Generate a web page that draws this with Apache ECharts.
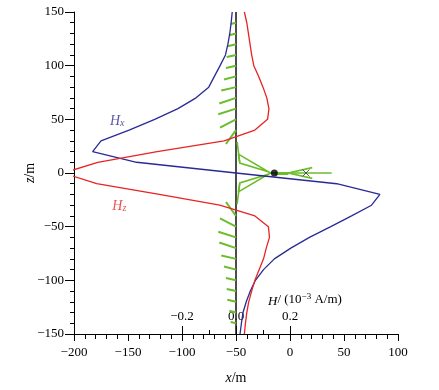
<!DOCTYPE html>
<html>
<head>
<meta charset="utf-8">
<script src="https://cdn.jsdelivr.net/npm/echarts@6/dist/echarts.min.js"></script>
<style>html,body{margin:0;padding:0;background:#fff;}#c{width:439px;height:390px;}</style>
</head>
<body>
<div id="c"></div>
<script>
// depth levels z (m)
const zLevels = [150,140,130,120,110,100,90,80,70,60,50,40,30,20,10,0,-10,-20,-30,-40,-50,-60,-70,-80,-90,-100,-110,-120,-130,-140,-150];
// Hx, Hz in 10^-3 A/m
const hx = [-0.014,-0.018,-0.023,-0.030,-0.039,-0.059,-0.080,-0.101,-0.148,-0.215,-0.301,-0.396,-0.500,-0.531,-0.368,0.000,0.373,0.533,0.502,0.428,0.351,0.272,0.203,0.142,0.102,0.072,0.053,0.038,0.026,0.020,0.015];
const hz = [0.031,0.040,0.046,0.052,0.058,0.066,0.084,0.100,0.114,0.122,0.117,0.070,-0.044,-0.292,-0.512,-0.640,-0.516,-0.284,-0.060,0.070,0.120,0.124,0.112,0.102,0.086,0.070,0.058,0.047,0.040,0.035,0.031];
// profile line position (m)
const profileX = -50;
// field whiskers along the profile (m)
const whiskTopZ = [140,130,120,110,100,90,80,70,60,50,40];
const whiskTopDx = [-4.9,-6.2,-8.0,-8.6,-9.3,-11.1,-13.6,-15.5,-16.4,-14.8,-9.3];
const whiskTopDz = [-1.2,-1.6,-1.9,-1.9,-2.1,-2.8,-3.1,-5.3,-5.3,-7.7,-13];
const whiskBotZ = [-40,-50,-60,-70,-80,-90,-100,-110,-120,-130,-140];
const whiskBotDx = [-9.3,-14.8,-16.4,-15.5,-13.6,-11.1,-9.3,-8.6,-8.0,-6.2,-4.9];
const whiskBotDz = [13,7.7,5.3,5.3,3.1,2.8,2.1,1.9,1.9,1.6,1.2];
// large arrows near z = 0 (m)
const arrowPaths = [
  [[-49,29],[-46.5,10]],
  [[-47.8,17.6],[-20,1.2],[-46.5,9.3],[-47.8,17.6]],
  [[-49,-29],[-46.5,-10]],
  [[-47.8,-17.6],[-20,-1.2],[-46.5,-9.3],[-47.8,-17.6]],
  [[-20,0],[38.6,0]],
  [[20.6,5],[-1.5,0],[20.6,-5]]
];
const arrowThick = [[-14.5,0],[-1.5,0]];
const dotPoint = [-14.5, 0];
const crossPoint = [14.8, 0];
// tick labels
const hTickValues = [-0.2, 0, 0.2];
const hMinorTickValues = [-0.1, 0.1];
// curve label anchors (m)
const hxLabelAt = [-160, 50];
const hzLabelAt = [-158, -29];

const FONT = 'Liberation Serif';
const GREEN = '#6cbd2c';
const BLUE = '#2a2a96';
const RED = '#e82323';
const minus = s => String(s).replace('-', '\u2212');

const whiskers = [];
whiskTopZ.forEach((z,i)=>whiskers.push({coords:[[profileX,z],[profileX+whiskTopDx[i], z+whiskTopDz[i]]]}));
whiskBotZ.forEach((z,i)=>whiskers.push({coords:[[profileX,z],[profileX+whiskBotDx[i], z+whiskBotDz[i]]]}));

const chart = echarts.init(document.getElementById('c'), null, {renderer:'canvas'});
chart.setOption({
  animation: false,
  backgroundColor: '#fff',
  grid: {left: 74, right: 41, top: 12, bottom: 54, containLabel: false},
  xAxis: [
    {
      type: 'value', min: -200, max: 100, interval: 50, position: 'bottom',
      name: '{i|x}/m', nameLocation: 'middle', nameGap: 37, nameMoveOverlap: false,
      nameTextStyle: {fontFamily: FONT, fontSize: 14, color: '#000', rich: {i: {fontStyle: 'italic', fontFamily: FONT, fontSize: 14}}},
      axisLine: {show: true, onZero: false, lineStyle: {color: '#000', width: 1}},
      axisTick: {show: true, length: 7, lineStyle: {color: '#000'}},
      minorTick: {show: true, splitNumber: 5, length: 5, lineStyle: {color: '#000'}},
      axisLabel: {fontFamily: FONT, fontSize: 13, color: '#000', margin: 12, formatter: v => minus(v)},
      splitLine: {show: false}
    },
    {
      type: 'value', min: -0.6, max: 0.6, position: 'bottom',
      axisLine: {show: false, onZero: false},
      axisTick: {show: true, inside: true, length: 8, customValues: hTickValues, lineStyle: {color: '#000'}},
      axisLabel: {show: true, inside: true, margin: 11, customValues: hTickValues, fontFamily: FONT, fontSize: 13, color: '#000', formatter: v => minus(Number(v).toFixed(1))},
      splitLine: {show: false}
    },
    {
      type: 'value', min: -0.6, max: 0.6, position: 'bottom',
      axisLine: {show: false, onZero: false},
      axisTick: {show: true, inside: true, length: 4, customValues: hMinorTickValues, lineStyle: {color: '#000'}},
      axisLabel: {show: false},
      splitLine: {show: false}
    }
  ],
  yAxis: {
    type: 'value', min: -150, max: 150, interval: 50,
    name: '{i|z}/m', nameLocation: 'middle', nameGap: 37, nameRotate: 90, nameMoveOverlap: false,
    nameTextStyle: {fontFamily: FONT, fontSize: 14, color: '#000', rich: {i: {fontStyle: 'italic', fontFamily: FONT, fontSize: 14}}},
    axisLine: {show: true, onZero: false, lineStyle: {color: '#000', width: 1}},
    axisTick: {show: true, length: 9, lineStyle: {color: '#000'}},
    minorTick: {show: true, splitNumber: 5, length: 4, lineStyle: {color: '#000'}},
    axisLabel: {fontFamily: FONT, fontSize: 13, color: '#000', margin: 10, formatter: v => minus(v)},
    splitLine: {show: false}
  },
  graphic: [
    {
      type: 'text', left: 268, top: 292, silent: true,
      style: {
        text: '{i|H}/ (10{s|\u22123} A/m)',
        fontFamily: FONT, fontSize: 13, fill: '#000',
        rich: {
          i: {fontStyle: 'italic', fontFamily: FONT, fontSize: 13, lineHeight: 16, verticalAlign: 'bottom'},
          s: {fontFamily: FONT, fontSize: 9, lineHeight: 9, verticalAlign: 'top'}
        }
      }
    }
  ],
  series: [
    {
      type: 'line', xAxisIndex: 0, yAxisIndex: 0, symbol: 'none', silent: true,
      data: [[profileX, -150], [profileX, 150]],
      lineStyle: {color: '#111', width: 1.5}, z: 3
    },
    {
      type: 'lines', coordinateSystem: 'cartesian2d', xAxisIndex: 0, yAxisIndex: 0, silent: true,
      data: whiskers, lineStyle: {color: GREEN, width: 2, opacity: 1}, z: 4
    },
    {
      type: 'lines', coordinateSystem: 'cartesian2d', xAxisIndex: 0, yAxisIndex: 0, polyline: true, silent: true,
      data: arrowPaths.map(p => ({coords: p})), lineStyle: {color: GREEN, width: 1.6, opacity: 1}, z: 4
    },
    {
      type: 'lines', coordinateSystem: 'cartesian2d', xAxisIndex: 0, yAxisIndex: 0, silent: true,
      data: [{coords: arrowThick}], lineStyle: {color: GREEN, width: 3.2, opacity: 1}, z: 4
    },
    {
      type: 'line', xAxisIndex: 1, yAxisIndex: 0, symbol: 'none', clip: false, silent: true,
      data: zLevels.map((z,i)=>[hx[i], z]), lineStyle: {color: BLUE, width: 1.3}, z: 5
    },
    {
      type: 'line', xAxisIndex: 1, yAxisIndex: 0, symbol: 'none', clip: false, silent: true,
      data: zLevels.map((z,i)=>[hz[i], z]), lineStyle: {color: RED, width: 1.3}, z: 5
    },
    {
      type: 'scatter', xAxisIndex: 0, yAxisIndex: 0, silent: true,
      data: [dotPoint], symbol: 'circle', symbolSize: 7, itemStyle: {color: '#000'}, z: 6
    },
    {
      type: 'scatter', xAxisIndex: 0, yAxisIndex: 0, silent: true,
      data: [crossPoint], symbol: 'path://M0,0L10,10M10,0L0,10', symbolSize: 7,
      itemStyle: {color: 'none', borderColor: '#333', borderWidth: 1}, z: 6
    },
    {
      type: 'scatter', xAxisIndex: 0, yAxisIndex: 0, silent: true, symbolSize: 0,
      data: [hxLabelAt],
      label: {show: true, position: 'inside', formatter: '{a|H}{b|x}',
        rich: {a: {fontFamily: FONT, fontStyle: 'italic', fontSize: 14, color: BLUE, lineHeight: 18, verticalAlign: 'bottom'},
               b: {fontFamily: FONT, fontStyle: 'italic', fontSize: 10, color: BLUE, lineHeight: 10, verticalAlign: 'bottom'}}}
    },
    {
      type: 'scatter', xAxisIndex: 0, yAxisIndex: 0, silent: true, symbolSize: 0,
      data: [hzLabelAt],
      label: {show: true, position: 'inside', formatter: '{a|H}{b|z}',
        rich: {a: {fontFamily: FONT, fontStyle: 'italic', fontSize: 14, color: RED, lineHeight: 18, verticalAlign: 'bottom'},
               b: {fontFamily: FONT, fontStyle: 'italic', fontSize: 10, color: RED, lineHeight: 10, verticalAlign: 'bottom'}}}
    }
  ]
});
</script>
</body>
</html>
